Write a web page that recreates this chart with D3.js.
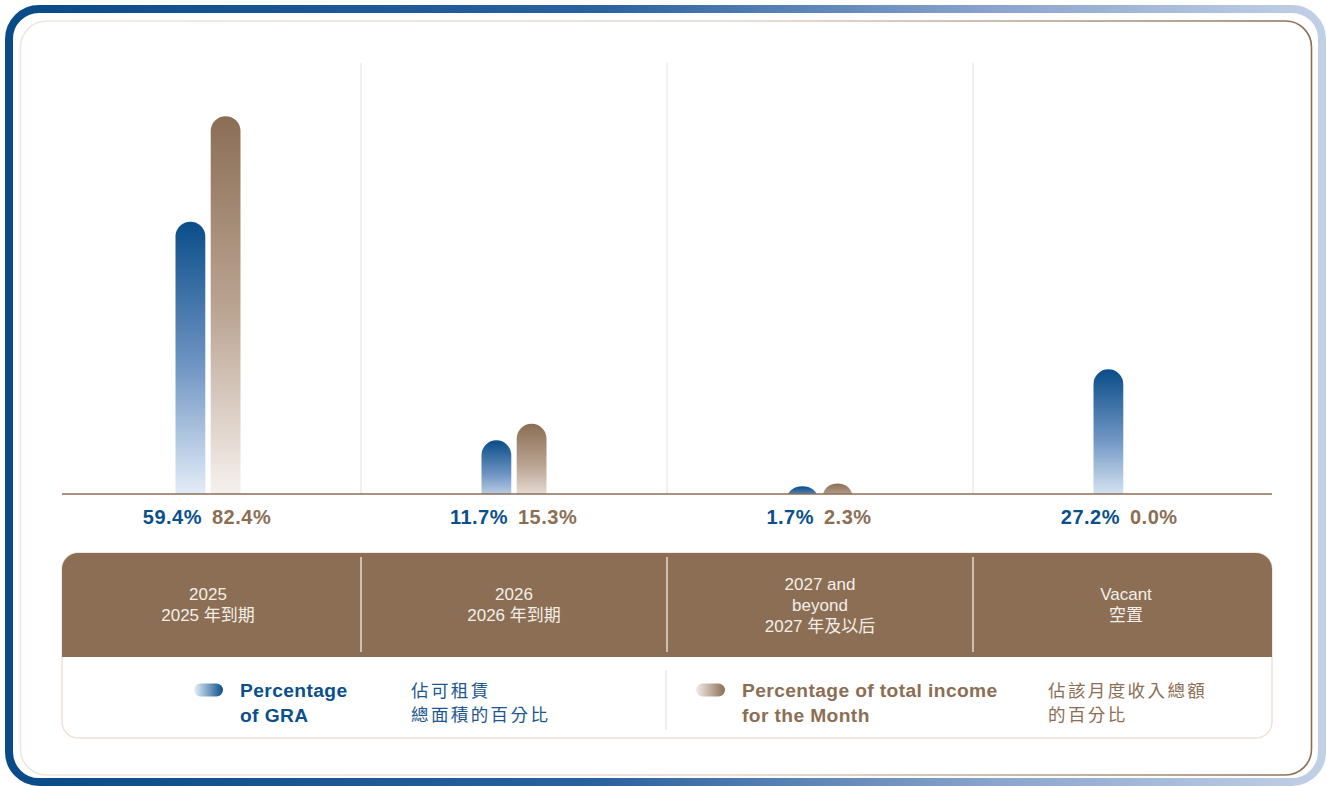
<!DOCTYPE html>
<html>
<head>
<meta charset="utf-8">
<script src="https://cdn.jsdelivr.net/npm/d3@7"></script>
<style>
  html, body { margin: 0; padding: 0; background: #ffffff; }
  svg { display: block; }
</style>
</head>
<body>
<div id="chart"></div>
<script>
// ---------- DATA ----------
const categories = ["2025", "2026", "2027+", "Vacant"];
const categoryLabels = [
  ["2025", "2025 年到期"],
  ["2026", "2026 年到期"],
  ["2027 and", "beyond", "2027 年及以后"],
  ["Vacant", "空置"]
];
const seriesKeys = ["gra", "income"];
const graValues = [59.4, 11.7, 1.7, 27.2];
const incomeValues = [82.4, 15.3, 2.3, 0.0];
const legendEnglish = [["Percentage", "of GRA"], ["Percentage of total income", "for the Month"]];
const legendChinese = [["佔可租賃", "總面積的百分比"], ["佔該月度收入總額", "的百分比"]];

// ---------- SETUP ----------
const W = 1327, H = 786;
const BLUE = "#0b4f8b", BROWN = "#8b6e54";
const svg = d3.select("#chart").append("svg").attr("width", W).attr("height", H);
const defs = svg.append("defs");

function linGrad(id, x1, y1, x2, y2, stops, units) {
  const g = defs.append("linearGradient").attr("id", id)
    .attr("x1", x1).attr("y1", y1).attr("x2", x2).attr("y2", y2);
  if (units) g.attr("gradientUnits", units);
  stops.forEach(s => g.append("stop").attr("offset", s[0]).attr("stop-color", s[1]));
}
linGrad("outerGrad", 9, 0, 1322, 0,
  [[0, "#084b88"], [0.45, "#2a629e"], [0.75, "#8aa4cc"], [1, "#c2d0e6"]], "userSpaceOnUse");
linGrad("innerGrad", 20, 0, 1312, 0,
  [[0, "#efe6e1"], [0.55, "#e2d6ce"], [1, "#8b6e54"]], "userSpaceOnUse");
linGrad("barBlue", 0, 0, 0, 1, [[0, "#0a4d89"], [0.5, "#6f95c3"], [1, "#f0f7fd"]]);
linGrad("barBrown", 0, 0, 0, 1, [[0, "#8b6e54"], [0.5, "#bba593"], [1, "#fbf7f5"]]);
linGrad("swBlue", 0, 0, 1, 0, [[0, "#e6f1fa"], [1, "#0b4f8b"]]);
linGrad("swBrown", 0, 0, 1, 0, [[0, "#f3ece8"], [1, "#8b6e54"]]);

// ---------- FRAMES ----------
svg.append("rect").attr("x", 9).attr("y", 9).attr("width", 1313).attr("height", 773)
  .attr("rx", 30).attr("fill", "none").attr("stroke", "url(#outerGrad)").attr("stroke-width", 8);
svg.append("rect").attr("x", 20.5).attr("y", 21).attr("width", 1291).attr("height", 754)
  .attr("rx", 26).attr("fill", "none").attr("stroke", "url(#innerGrad)").attr("stroke-width", 1.6);

// ---------- SCALES ----------
const baseY = 494;
const x0 = d3.scaleBand().domain(categories).range([55, 1279]);
const x1 = d3.scaleBand().domain(seriesKeys).range([-32.5, 32.5]).paddingInner(0.154);
const y = d3.scaleLinear().domain([0, 100]).range([baseY, 35.5]);
const cx = c => x0(c) + x0.bandwidth() / 2;

// separators in the plot
const sepX = categories.slice(1).map(c => x0(c));
svg.append("g").selectAll("line").data(sepX).join("line")
  .attr("x1", d => d).attr("x2", d => d).attr("y1", 63).attr("y2", baseY)
  .attr("stroke", "#e8e0dc").attr("stroke-width", 1);

// bars
defs.append("clipPath").attr("id", "plotClip").append("rect")
  .attr("x", 0).attr("y", 0).attr("width", W).attr("height", baseY);
const rows = categories.map((c, i) => ({ c, gra: graValues[i], income: incomeValues[i] }));
const barData = [];
rows.forEach(r => seriesKeys.forEach(k => barData.push({ c: r.c, k, v: r[k] })));
const bw = x1.bandwidth();
svg.append("g").attr("clip-path", "url(#plotClip)").selectAll("rect").data(barData.filter(d => d.v > 0)).join("rect")
  .attr("x", d => cx(d.c) + x1(d.k))
  .attr("y", d => y(d.v))
  .attr("width", bw)
  .attr("height", d => baseY - y(d.v) + bw / 2)
  .attr("rx", bw / 2)
  .attr("fill", d => d.k === "gra" ? "url(#barBlue)" : "url(#barBrown)");

// baseline
svg.append("line").attr("x1", 62).attr("x2", 1272).attr("y1", baseY).attr("y2", baseY)
  .attr("stroke", BROWN).attr("stroke-width", 1.3);

// value labels
const valG = svg.append("g").attr("font-family", "'Liberation Sans', Arial, sans-serif")
  .attr("font-weight", "bold").attr("font-size", 20).attr("letter-spacing", 0.5);
rows.forEach(r => {
  valG.append("text").attr("x", cx(r.c) - 6).attr("y", 523.5).attr("text-anchor", "end")
    .attr("fill", BLUE).text(r.gra.toFixed(1) + "%");
  valG.append("text").attr("x", cx(r.c) + 4).attr("y", 523.5).attr("text-anchor", "start")
    .attr("fill", BROWN).text(r.income.toFixed(1) + "%");
});

// ---------- TABLE / HEADER ----------
const tL = 62, tR = 1272, tT = 553, tHB = 657, tB = 738, rr = 16;
svg.append("rect").attr("x", tL).attr("y", tT).attr("width", tR - tL).attr("height", tB - tT)
  .attr("rx", rr).attr("fill", "#ffffff").attr("stroke", "#ece2dc").attr("stroke-width", 1.5);
const hp = d3.path();
hp.moveTo(tL, tHB); hp.lineTo(tL, tT + rr);
hp.arcTo(tL, tT, tL + rr, tT, rr); hp.lineTo(tR - rr, tT);
hp.arcTo(tR, tT, tR, tT + rr, rr); hp.lineTo(tR, tHB); hp.closePath();
svg.append("path").attr("d", hp.toString()).attr("fill", "#8b6e54");

svg.append("g").selectAll("line").data(sepX).join("line")
  .attr("x1", d => d).attr("x2", d => d).attr("y1", 557).attr("y2", 652)
  .attr("stroke", "#f2ebe6").attr("stroke-width", 1.3);

const hdrG = svg.append("g").attr("font-family", "'Liberation Sans', 'Noto Sans CJK TC', sans-serif")
  .attr("font-size", 17).attr("fill", "#f4eee9").attr("text-anchor", "middle");
categories.forEach((c, i) => {
  const lines = categoryLabels[i];
  const n = lines.length;
  lines.forEach((ln, j) => {
    hdrG.append("text").attr("x", cx(c)).attr("y", 605 - (n - 1) * 21 / 2 + j * 21 + 5.5)
      .text(ln);
  });
});

// ---------- LEGEND ----------
svg.append("line").attr("x1", 666).attr("x2", 666).attr("y1", 670).attr("y2", 730)
  .attr("stroke", "#e8dfda").attr("stroke-width", 1.2);

const legendItems = [
  { sw: "url(#swBlue)", sx: 194, tx: 240, cx: 411, color: BLUE, ccol: "#1d5790" },
  { sw: "url(#swBrown)", sx: 696, tx: 742, cx: 1048, color: BROWN, ccol: "#8b6e54" }
];
legendItems.forEach((it, i) => {
  svg.append("rect").attr("x", it.sx).attr("y", 683.5).attr("width", 29).attr("height", 13)
    .attr("rx", 6.5).attr("fill", it.sw);
  legendEnglish[i].forEach((ln, j) => {
    svg.append("text").attr("x", it.tx).attr("y", 697 + j * 25)
      .attr("font-family", "'Liberation Sans', Arial, sans-serif").attr("font-weight", "bold")
      .attr("font-size", 19.2).attr("letter-spacing", 0.4).attr("fill", it.color).text(ln);
  });
  legendChinese[i].forEach((ln, j) => {
    svg.append("text").attr("x", it.cx).attr("y", 697 + j * 24)
      .attr("font-family", "'Noto Sans CJK TC', sans-serif")
      .attr("font-size", 17.5).attr("letter-spacing", 2.4).attr("fill", it.ccol).text(ln);
  });
});
</script>
</body>
</html>
